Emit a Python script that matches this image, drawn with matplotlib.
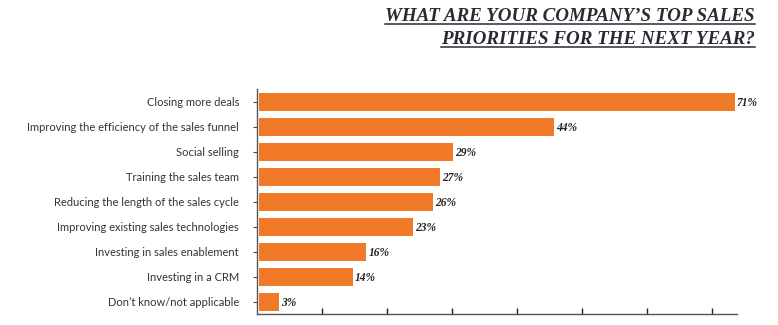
import matplotlib
matplotlib.use("Agg")
import matplotlib.pyplot as plt
from matplotlib.lines import Line2D

categories = [
    "Closing more deals",
    "Improving the efficiency of the sales funnel",
    "Social selling",
    "Training the sales team",
    "Reducing the length of the sales cycle",
    "Improving existing sales technologies",
    "Investing in sales enablement",
    "Investing in a CRM",
    "Don\u2019t know/not applicable",
]
values = [71, 44, 29, 27, 26, 23, 16, 14, 3]
title_lines = ["WHAT ARE YOUR COMPANY\u2019S TOP SALES", "PRIORITIES FOR THE NEXT YEAR?"]

BAR_COLOR = "#F07A27"
W, H = 778, 325

fig = plt.figure(figsize=(W / 100, H / 100), dpi=100)
ax = fig.add_axes([257 / W, 1 - 314 / H, (737 - 257) / W, (314 - 89) / H])

ypos = list(range(len(categories)))
ax.barh(ypos, values, height=0.72, color=BAR_COLOR, left=0.3)
ax.set_ylim(len(categories) - 0.5, -0.5)
ax.set_xlim(0, 71.6)

ax.set_yticks(ypos)
ax.set_yticklabels(categories, fontsize=8.0, color="#333333", family="Lato")
ax.tick_params(axis="y", direction="out", length=3, width=0.8, pad=10, color="#444444")

# unlabelled ticks along the bottom, pointing up into the plot
ax.set_xticks([9.7 * k for k in range(1, 8)])
ax.set_xticklabels([])
ax.tick_params(axis="x", direction="in", length=4, width=1.0, color="#222222")

for side in ("top", "right"):
    ax.spines[side].set_visible(False)
for side in ("left", "bottom"):
    ax.spines[side].set_color("#555555")
    ax.spines[side].set_linewidth(1.0)

for y, v in zip(ypos, values):
    ax.text(v + 0.6, y + 0.05, f"{v}%", va="center", ha="left", fontsize=8.3,
            family="Liberation Serif", style="italic", weight="bold", color="#222222")

# right-aligned underlined title
fig.canvas.draw()
renderer = fig.canvas.get_renderer()
for i, line in enumerate(title_lines):
    t = fig.text(755 / W, 1 - (21 + 23 * i) / H, line, ha="right", va="baseline",
                 fontsize=13.7, family="Liberation Serif", style="italic", weight="bold",
                 color="#2a2a35")
    bb = t.get_window_extent(renderer=renderer)
    uy = 1 - (23.5 + 23 * i) / H
    fig.add_artist(Line2D([bb.x0 / W, bb.x1 / W], [uy, uy], transform=fig.transFigure,
                          color="#2a2a35", linewidth=1.1))

fig.savefig("out.png", dpi=100)
